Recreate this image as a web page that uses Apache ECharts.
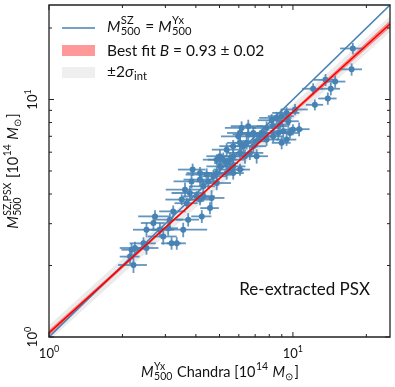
<!DOCTYPE html>
<html>
<head>
<meta charset="utf-8">
<script src="https://cdn.jsdelivr.net/npm/echarts@6/dist/echarts.min.js"></script>
<style>
  html, body { margin: 0; padding: 0; background: #fff; }
  #show { width: 395px; height: 387px; }
</style>
</head>
<body>
<div id="show"></div>
<script>
// cluster masses [10^14 Msun]
var xVals = [17.6, 17.4, 13.6, 14.9, 14.3, 12.1, 13.9, 12.3, 10.6, 10.2, 9.42, 8.99, 8.57, 8.18, 8.30, 8.85, 9.57, 9.13, 9.72, 9.42,
  8.99, 10.0, 7.80, 7.56, 7.32, 6.88, 6.56, 6.16, 6.07, 5.97, 6.56, 7.10, 6.88, 6.46, 6.26, 6.66, 7.10, 6.36, 5.69, 5.52,
  5.35, 5.18, 5.02, 5.69, 6.07, 5.52, 5.35, 5.02, 4.87, 4.72, 4.43, 4.50, 4.87, 4.16, 4.29, 3.88, 3.84, 3.78, 4.03, 3.61,
  3.50, 3.67, 4.16, 4.64, 4.57, 4.23, 3.72, 3.55, 3.23, 3.13, 3.08, 2.85, 2.72, 2.68, 2.51, 2.44, 2.51, 2.25, 2.18, 2.15,
  2.22, 3.18, 3.34, 2.94, 4.29, 5.35, 5.69, 6.07, 7.80, 8.30, 8.71, 6.07, 4.87, 5.69, 4.16];
var yVals = [16.4, 13.4, 12.1, 11.9, 11.1, 11.1, 10.1, 9.5, 7.5, 9.08, 8.78, 8.51, 8.37, 8.18, 7.72, 7.85, 8.10, 7.35, 7.23, 6.78,
  6.57, 7.47, 7.59, 7.23, 7.00, 7.23, 7.12, 7.59, 7.23, 7.00, 7.72, 6.67, 6.36, 6.57, 6.36, 5.96, 5.77, 5.77, 5.77, 5.58,
  5.40, 5.58, 5.77, 5.23, 5.07, 5.07, 4.90, 5.23, 4.90, 4.75, 4.83, 4.52, 4.45, 4.60, 4.31, 5.07, 4.52, 4.04, 3.91, 4.17,
  3.79, 3.66, 3.79, 3.85, 3.49, 3.22, 3.12, 2.83, 3.38, 3.12, 2.87, 2.83, 3.22, 3.02, 2.83, 2.48, 2.37, 2.37, 2.33, 2.18,
  2.01, 2.48, 2.48, 2.65, 3.91, 6.15, 6.36, 6.57, 6.78, 7.00, 7.23, 5.96, 5.58, 4.90, 4.90];
var xErr = [2.0, 1.8, 1.4, 1.5, 1.3, 1.2, 1.2, 1.0, 1.1, 1.3, 1.2, 1.1, 1.3, 1.0, 1.2, 0.9, 1.0, 1.1, 0.9, 0.9,
  0.8, 1.0, 1.0, 0.9, 0.9, 0.8, 0.9, 0.9, 0.7, 0.9, 1.0, 0.8, 0.9, 0.7, 0.8, 0.9, 0.8, 0.8, 0.7, 0.8,
  0.6, 0.7, 0.6, 0.7, 0.6, 0.8, 0.6, 0.6, 0.7, 0.6, 0.8, 0.5, 0.7, 0.6, 0.5, 0.5, 0.6, 0.6, 0.5, 0.6,
  0.5, 0.4, 0.5, 0.6, 0.4, 0.4, 0.4, 0.9, 0.4, 0.4, 0.3, 0.4, 0.4, 0.3, 0.3, 0.3, 0.3, 0.3, 0.2, 0.2,
  0.3, 0.3, 0.3, 0.4, 0.5, 0.7, 0.7, 0.7, 0.9, 0.8, 0.9, 0.7, 0.6, 0.6, 0.5];
var yErr = [0.9, 0.8, 0.7, 0.7, 0.7, 0.6, 0.6, 0.5, 0.5, 0.5, 0.5, 0.6, 0.5, 0.5, 0.5, 0.5, 0.5, 0.5, 0.4, 0.4,
  0.4, 0.4, 0.5, 0.5, 0.4, 0.5, 0.4, 0.5, 0.5, 0.4, 0.5, 0.4, 0.4, 0.4, 0.4, 0.4, 0.4, 0.4, 0.4, 0.4,
  0.3, 0.4, 0.4, 0.3, 0.3, 0.3, 0.3, 0.3, 0.3, 0.3, 0.3, 0.3, 0.3, 0.3, 0.3, 0.3, 0.3, 0.3, 0.2, 0.3,
  0.2, 0.2, 0.2, 0.3, 0.2, 0.2, 0.2, 0.2, 0.2, 0.2, 0.2, 0.2, 0.2, 0.2, 0.2, 0.15, 0.15, 0.15, 0.15, 0.15,
  0.15, 0.15, 0.15, 0.2, 0.2, 0.4, 0.4, 0.4, 0.4, 0.4, 0.5, 0.4, 0.3, 0.3, 0.3];

// one-to-one line and best fit (B = 0.93)
var oneX = [1, 25];
var oneY = [1, 25];
var fitX = [1, 25];
var fitY = [1.04, 20.8];
// fit uncertainty band
var fitBandX = [1, 5, 25];
var fitBandLo = [1.012, 4.61, 20.1];
var fitBandHi = [1.07, 4.67, 21.5];
// +-2 sigma_int band
var sigBandX = [1, 25];
var sigBandLo = [0.965, 19.3];
var sigBandHi = [1.12, 22.4];

var majorTicks = [1, 10];
var minorTicks = [2, 3, 4, 5, 6, 7, 8, 9, 20];

var FONT = 'Lato';
var BLUE = '#4682b4';

var ctx = document.createElement('canvas').getContext('2d');
function textW(t, size, italic) {
  ctx.font = (italic ? 'italic ' : '') + size + 'px ' + FONT;
  return ctx.measureText(t).width;
}
function txt(t, x, y, size, italic) {
  return {
    type: 'text', x: x, y: y, silent: true,
    style: {
      text: t, fontSize: size, fontFamily: FONT, fontStyle: italic ? 'italic' : 'normal',
      fill: '#111', textAlign: 'left', textVerticalAlign: 'middle', align: 'left', verticalAlign: 'middle'
    }
  };
}
// lays out text with stacked super/subscripts, returns children + width
function mathRow(parts, size) {
  var x = 0, kids = [];
  parts.forEach(function (p) {
    if (p.t !== undefined) {
      kids.push(txt(p.t, x, 0, size, p.i));
      x += textW(p.t, size, p.i);
    } else {
      var s = size * 0.72, adv = 0;
      if (p.sup) { kids.push(txt(p.sup, x + 0.5, -size * 0.4, s)); adv = Math.max(adv, textW(p.sup, s)); }
      if (p.sub) { kids.push(txt(p.sub, x + 0.5, size * 0.3, s)); adv = Math.max(adv, textW(p.sub, s)); }
      x += adv + 1.5;
    }
  });
  return { kids: kids, width: x };
}

var xName = mathRow([{ t: 'M', i: true }, { sup: 'Yx', sub: '500' }, { t: ' Chandra [10' }, { sup: '14' },
  { t: ' M', i: true }, { sub: '\u2299' }, { t: ']' }], 14.5);
var yName = mathRow([{ t: 'M', i: true }, { sup: 'SZ,PSX', sub: '500' }, { t: ' [10' }, { sup: '14' },
  { t: ' M', i: true }, { sub: '\u2299' }, { t: ']' }], 14.5);
var leg1 = mathRow([{ t: 'M', i: true }, { sup: 'SZ', sub: '500' }, { t: ' = ' }, { t: 'M', i: true }, { sup: 'Yx', sub: '500' }], 15.5);
var leg2 = mathRow([{ t: 'Best fit ' }, { t: 'B', i: true }, { t: ' = 0.93 \u00b1 0.02' }], 15.5);
var leg3 = mathRow([{ t: '\u00b12' }, { t: '\u03c3', i: true }, { sub: 'int' }], 15.5);

function bandSeries(bx, lo, hi, fill, z) {
  return {
    type: 'custom', z: z, silent: true, clip: true,
    data: bx.map(function (x, i) { return [x, lo[i]]; }),
    renderItem: function (params, api) {
      if (params.dataIndex !== 0) return;
      var pts = [];
      for (var i = 0; i < bx.length; i++) pts.push(api.coord([bx[i], hi[i]]));
      for (var j = bx.length - 1; j >= 0; j--) pts.push(api.coord([bx[j], lo[j]]));
      return { type: 'polygon', shape: { points: pts }, style: { fill: fill } };
    }
  };
}

function powLabel(v) {
  var e = Math.log10(v);
  if (Math.abs(e - Math.round(e)) > 1e-6) return '';
  return '{b|10}{s|' + Math.round(e) + '}';
}
var labelRich = {
  b: { fontSize: 13, fontFamily: FONT, color: '#111' },
  s: { fontSize: 9, fontFamily: FONT, color: '#111', padding: [0, 0, 8, 0] }
};

var myChart = echarts.init(document.getElementById('show'));
myChart.setOption({
  animation: false,
  grid: { left: 49, right: 5, top: 5, bottom: 50, show: true, borderColor: '#222', borderWidth: 1.3, z: 10 },
  xAxis: {
    type: 'log', logBase: 10, min: 1, max: 25,
    axisLine: { show: false }, axisTick: { show: false }, splitLine: { show: false }, minorTick: { show: false },
    axisLabel: { margin: 8, showMaxLabel: false, fontFamily: FONT, color: '#111', formatter: powLabel, rich: labelRich }
  },
  yAxis: {
    type: 'log', logBase: 10, min: 1, max: 25,
    axisLine: { show: false }, axisTick: { show: false }, splitLine: { show: false }, minorTick: { show: false },
    axisLabel: { margin: 8, rotate: 90, showMaxLabel: false, fontFamily: FONT, color: '#111', formatter: powLabel, rich: labelRich }
  },
  series: [
    bandSeries(sigBandX, sigBandLo, sigBandHi, 'rgba(128,128,128,0.16)', 1),
    bandSeries(fitBandX, fitBandLo, fitBandHi, 'rgba(255,0,0,0.4)', 2),
    {
      type: 'line', z: 3, silent: true, showSymbol: false, symbol: 'none',
      data: oneX.map(function (x, i) { return [x, oneY[i]]; }),
      lineStyle: { color: BLUE, width: 1.7 }
    },
    {
      type: 'custom', z: 4, silent: true, clip: true,
      data: xVals.map(function (x, i) { return [x, yVals[i], xErr[i], yErr[i]]; }),
      encode: { x: 0, y: 1 },
      renderItem: function (params, api) {
        var x = api.value(0), y = api.value(1), dx = api.value(2), dy = api.value(3);
        var a = api.coord([x - dx, y]), b = api.coord([x + dx, y]);
        var c = api.coord([x, y - dy]), d = api.coord([x, y + dy]);
        var st = { stroke: 'rgba(70,130,180,0.85)', lineWidth: 1.8 };
        return {
          type: 'group', children: [
            { type: 'line', shape: { x1: a[0], y1: a[1], x2: b[0], y2: b[1] }, style: st },
            { type: 'line', shape: { x1: c[0], y1: c[1], x2: d[0], y2: d[1] }, style: st }
          ]
        };
      }
    },
    {
      type: 'scatter', z: 5, silent: true, symbolSize: 6,
      data: xVals.map(function (x, i) { return [x, yVals[i]]; }),
      itemStyle: { color: BLUE, opacity: 1 }
    },
    {
      type: 'line', z: 6, silent: true, showSymbol: false, symbol: 'none',
      data: fitX.map(function (x, i) { return [x, fitY[i]]; }),
      lineStyle: { color: '#ff0000', width: 1.6 }
    },
    {
      // ticks on all four sides, pointing in
      type: 'custom', z: 11, silent: true, clip: false,
      data: majorTicks.map(function (v) { return [v, v, 5]; }).concat(minorTicks.map(function (v) { return [v, v, 3]; })),
      renderItem: function (params, api) {
        var cs = params.coordSys, v = api.value(0), len = api.value(2);
        var p = api.coord([v, v]);
        var l = cs.x, r = cs.x + cs.width, t = cs.y, b = cs.y + cs.height;
        var st = { stroke: '#222', lineWidth: 1 };
        return {
          type: 'group', children: [
            { type: 'line', shape: { x1: p[0], y1: b, x2: p[0], y2: b - len }, style: st },
            { type: 'line', shape: { x1: p[0], y1: t, x2: p[0], y2: t + len }, style: st },
            { type: 'line', shape: { x1: l, y1: p[1], x2: l + len, y2: p[1] }, style: st },
            { type: 'line', shape: { x1: r, y1: p[1], x2: r - len, y2: p[1] }, style: st }
          ]
        };
      }
    }
  ],
  graphic: [
    { type: 'group', x: 220 - xName.width / 2, y: 372, children: xName.kids },
    { type: 'group', x: 13, y: 171 + yName.width / 2, rotation: Math.PI / 2, children: yName.kids },
    // legend
    { type: 'line', shape: { x1: 62, y1: 28, x2: 95, y2: 28 }, style: { stroke: BLUE, lineWidth: 1.7 } },
    { type: 'rect', shape: { x: 62, y: 45, width: 33, height: 11 }, style: { fill: 'rgba(255,0,0,0.4)' } },
    { type: 'rect', shape: { x: 62, y: 67, width: 33, height: 11 }, style: { fill: 'rgba(128,128,128,0.13)' } },
    { type: 'group', x: 107, y: 27, children: leg1.kids },
    { type: 'group', x: 107, y: 51, children: leg2.kids },
    { type: 'group', x: 107, y: 72, children: leg3.kids },
    {
      type: 'text', x: 370, y: 290,
      style: { text: 'Re-extracted PSX', fontSize: 17, fontFamily: FONT, fill: '#111', textAlign: 'right', textVerticalAlign: 'middle', align: 'right', verticalAlign: 'middle' }
    }
  ]
});
</script>
</body>
</html>
